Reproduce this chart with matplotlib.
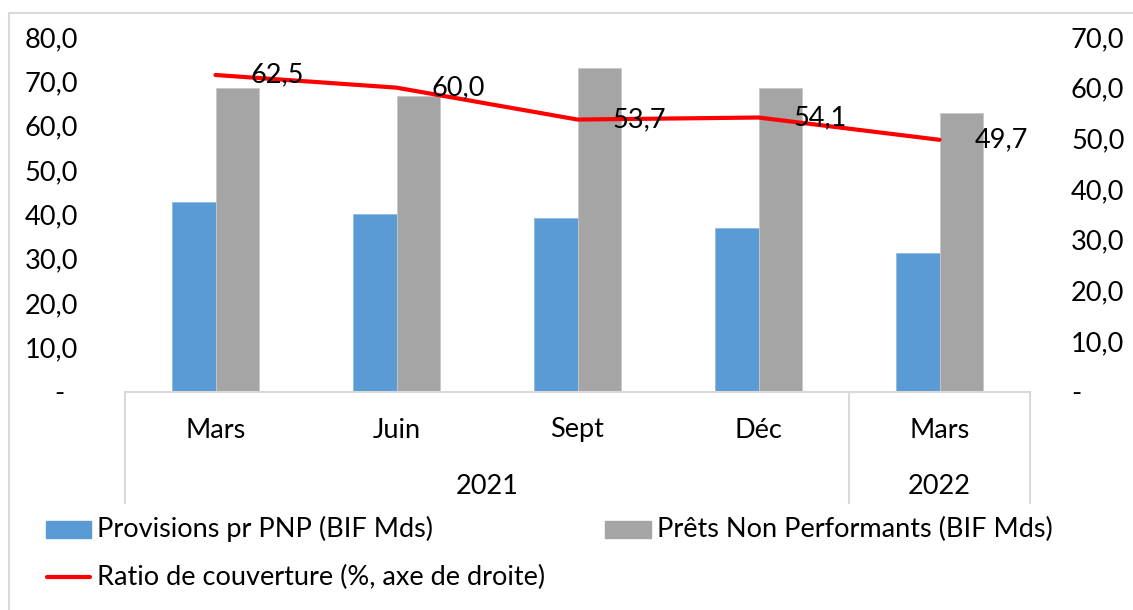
import matplotlib
matplotlib.use("Agg")
import matplotlib.pyplot as plt
from matplotlib.lines import Line2D
from matplotlib.patches import Rectangle
import matplotlib.transforms as mtransforms
import numpy as np

plt.rcParams['font.family'] = ['Lato', 'DejaVu Sans']

months = ["Mars", "Juin", "Sept", "Déc", "Mars"]
years = ["2021", "2022"]
year_spans = [(0, 3), (4, 4)]
provisions = [42.8, 40.0, 39.1, 37.0, 31.3]
pnp = [68.6, 66.7, 73.0, 68.5, 62.9]
ratio = [62.5, 60.0, 53.7, 54.1, 49.7]
left_ticks = [0, 10, 20, 30, 40, 50, 60, 70, 80]
right_ticks = [0, 10, 20, 30, 40, 50, 60, 70]

W, H = 1133, 610
fig = plt.figure(figsize=(W / 100, H / 100), dpi=100)

def fx(px):
    return px / W

def fy(py):
    return 1 - py / H

PT = 72 / 100  # points per pixel

ax_l, ax_r, ax_t, ax_b = 125, 1030, 37, 391.5
ax = fig.add_axes([fx(ax_l), fy(ax_b), fx(ax_r - ax_l), fy(ax_t) - fy(ax_b)])
ax2 = ax.twinx()

blue = "#5B9BD5"
gray = "#A5A5A5"
red = "#FF0000"
fs = 19.5

x = np.arange(len(months))
w = 0.2376
ax.bar(x - w / 2, provisions, w, color=blue, edgecolor="#8fbbe3", linewidth=0.6, zorder=2)
ax.bar(x + w / 2, pnp, w, color=gray, edgecolor="#c8c8c8", linewidth=0.6, zorder=2)
ax.set_xlim(-0.5, len(months) - 0.5)
ax.set_ylim(0, 80)
ax.set_yticks(left_ticks)
ax.set_yticklabels(["-" if v == 0 else f"{v:.1f}".replace(".", ",") for v in left_ticks], fontsize=fs)
ax.tick_params(axis="y", length=0, pad=47 * PT)
# Excel accounting zero "-" sits left of the digit column
zero_lbl = ax.get_yticklabels()[0]
zero_lbl.set_transform(zero_lbl.get_transform() + mtransforms.ScaledTranslation(-14 / 100, 0, fig.dpi_scale_trans))
ax.set_xticks([])
for s in ["top", "right", "left"]:
    ax.spines[s].set_visible(False)
ax.spines["bottom"].set_color("#d9d9d9")
ax.spines["bottom"].set_linewidth(1.5)

ax2.plot(x, ratio, color=red, linewidth=3, solid_capstyle="round", zorder=3)
ax2.set_ylim(0, 70)
ax2.set_yticks(right_ticks)
ax2.set_yticklabels(["-" if v == 0 else f"{v:.1f}".replace(".", ",") for v in right_ticks], fontsize=fs)
ax2.tick_params(axis="y", length=0, pad=41 * PT)
for s in ax2.spines.values():
    s.set_visible(False)
for xi, r in zip(x, ratio):
    ax2.annotate(f"{r:.1f}".replace(".", ","), (xi, r), xytext=(35 * PT, 0), textcoords="offset points",
                 ha="left", va="center", fontsize=fs, zorder=4)

# category axis labels with group boxes
trans = mtransforms.blended_transform_factory(ax.transData, fig.transFigure)
line_kw = dict(color="#d9d9d9", linewidth=1.5, transform=trans, clip_on=False)
y_top = fy(391.5)
y_bot = fy(503)
for b in [-0.5, 3.5, 4.5]:
    fig.add_artist(Line2D([b, b], [y_top, y_bot], **line_kw))
for xi, m in zip(x, months):
    fig.text(xi, fy(430), m, transform=trans, ha="center", va="center", fontsize=fs)
for (a, b), yr in zip(year_spans, years):
    fig.text((a + b) / 2, fy(487), yr, transform=trans, ha="center", va="center", fontsize=fs)

# chart border (partially cropped)
fig.add_artist(Line2D([fx(9), fx(9)], [fy(13), 0], color="#d9d9d9", linewidth=1.5))
fig.add_artist(Line2D([fx(9), 1], [fy(13), fy(13)], color="#d9d9d9", linewidth=1.5))

# legend
fig.add_artist(Rectangle((fx(46), fy(538)), fx(45), fy(521) - fy(538), color=blue))
fig.text(fx(97), fy(529), "Provisions pr PNP (BIF Mds)", ha="left", va="center", fontsize=fs)
fig.add_artist(Rectangle((fx(605), fy(538)), fx(46), fy(521) - fy(538), color=gray))
fig.text(fx(657), fy(529), "Prêts Non Performants (BIF Mds)", ha="left", va="center", fontsize=fs)
fig.add_artist(Line2D([fx(47), fx(90)], [fy(577), fy(577)], color=red, linewidth=3, solid_capstyle="round"))
fig.text(fx(97), fy(577), "Ratio de couverture (%, axe de droite)", ha="left", va="center", fontsize=fs)

fig.savefig("out.png", dpi=100)
